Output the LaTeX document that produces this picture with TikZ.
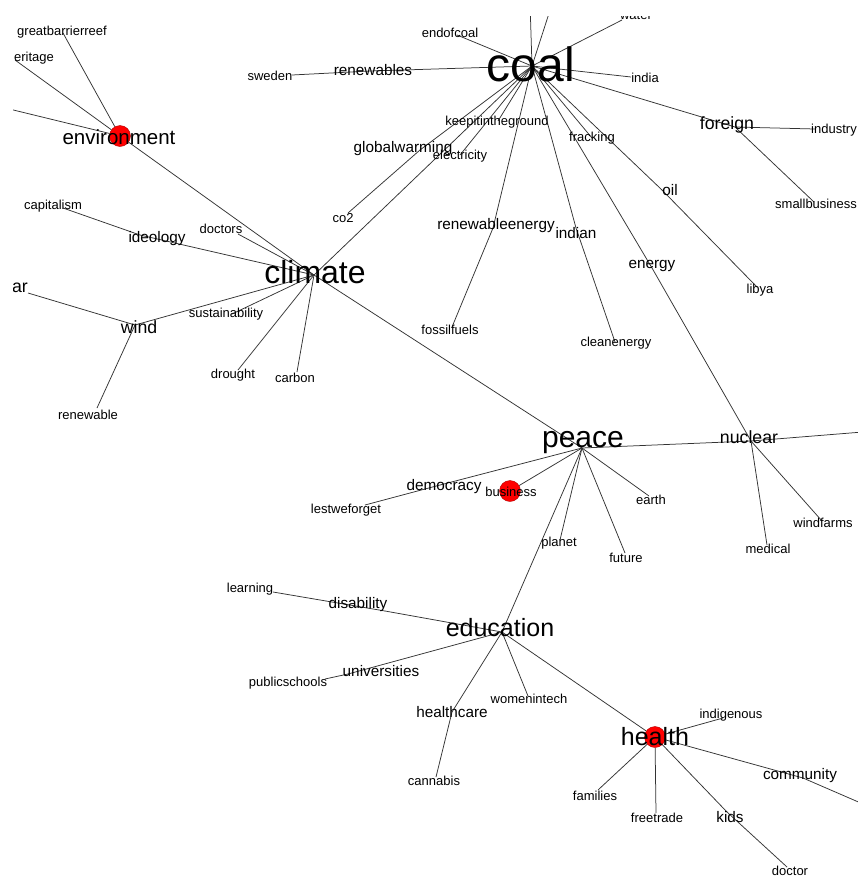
\documentclass[tikz,border=0pt]{standalone}
\usepackage{fontspec}
\setmainfont{Liberation Sans}
\pgfdeclarelayer{edges}
\pgfsetlayers{edges,main}

\begin{document}
\begin{tikzpicture}[x=1pt,y=-1pt,
        v/.style={inner sep=0pt,outer sep=0pt,minimum size=0pt},
        dot/.style={circle,fill=red,draw=red!70!black,thin,inner sep=0pt,minimum size=21pt},
        f1/.style={font={\fontsize{13}{13}\selectfont}},
        f2/.style={font={\fontsize{15.3}{15}\selectfont}},
        f3/.style={font={\fontsize{17.7}{18}\selectfont}},
        link/.style={draw=black!80,line width=0.75pt}]
  \useasboundingbox (0,0) rectangle (858,876);
  \clip (13,16) rectangle (858,876);

  % coal cluster
  \node[v,label={[font={\fontsize{48}{48}\selectfont},xshift=-1pt,yshift=2pt]center:coal}] (coal) at (532,66) {};
  \node[v,label={[f1,xshift=-7pt,yshift=2pt]center:endofcoal}] (endofcoal) at (457,35) {};
  \node[v,label={[f2,xshift=3pt,yshift=1pt]center:renewables}] (renewables) at (370,71) {};
  \node[v,label={[f1,xshift=-22pt,yshift=-1pt]center:sweden}] (sweden) at (292,75) {};
  \node[v,label={[f1,xshift=14pt,yshift=5pt]center:water}] (water) at (622,20) {};
  \node[v,label={[f1,xshift=14pt,yshift=-1pt]center:india}] (india) at (631,77) {};
  \node[v,label={[f3,xshift=-8pt,yshift=2pt]center:foreign}] (foreign) at (735,127) {};
  \node[v,label={[f1,xshift=19pt,yshift=-1pt]center:industry}] (industry) at (815,129) {};
  \node[v,label={[f1,xshift=2pt,yshift=-2pt]center:smallbusiness}] (smallbusiness) at (814,202) {};
  \node[v,label={[f1,xshift=-1pt,yshift=-1pt]center:keepitintheground}] (keepit) at (498,121) {};
  \node[v,label={[f2,xshift=-17pt,yshift=1pt]center:globalwarming}] (globalwarming) at (420,150) {};
  \node[v,label={[f1,xshift=-5pt,yshift=-5pt]center:co2}] (co2) at (348,213) {};
  \node[v,label={[f1,yshift=-1pt]center:electricity}] (electricity) at (460,155) {};
  \node[v,label={[f2,xshift=3pt,yshift=2pt]center:renewableenergy}] (renewableenergy) at (493,228) {};
  \node[v,label={[f1,xshift=-2pt,yshift=-3pt]center:fossilfuels}] (fossilfuels) at (452,327) {};
  \node[v,label={[f2,yshift=-5pt]center:indian}] (indian) at (576,228) {};
  \node[v,label={[f1,xshift=1pt,yshift=-1pt]center:cleanenergy}] (cleanenergy) at (615,342) {};
  \node[v,label={[f1]center:fracking}] (fracking) at (592,138) {};
  \node[v,label={[f2,yshift=2pt]center:energy}] (energy) at (652,268) {};
  \node[v,label={[f2,xshift=8pt]center:oil}] (oil) at (662,190) {};
  \node[v,label={[f1,xshift=3pt,yshift=-3pt]center:libya}] (libya) at (757,287) {};
  \coordinate (coalup) at (529,-30);
  \coordinate (coalupr) at (563,-30);

  % climate cluster
  \node[v,label={[font={\fontsize{32}{32}\selectfont},xshift=1pt,yshift=3pt]center:climate}] (climate) at (314,275) {};
  \node[dot,label={[font={\fontsize{20.5}{21}\selectfont},xshift=-1pt,yshift=-1pt]center:environment}] (environment) at (120,136) {};
  \node[v,label={[f1,xshift=-1pt,yshift=1pt]center:greatbarrierreef}] (greatbarrierreef) at (63,33) {};
  \node[v,label={[f1,xshift=19pt,yshift=2pt]center:eritage}] (eritage) at (15,60) {};
  \coordinate (envleft) at (-40,97);
  \node[v,label={[f1,xshift=-17pt,yshift=5pt]center:doctors}] (doctors) at (238,234) {};
  \node[v,label={[f2,xshift=17pt,yshift=-4pt]center:ideology}] (ideology) at (140,235) {};
  \node[v,label={[f1,xshift=-10pt,yshift=2pt]center:capitalism}] (capitalism) at (63,208) {};
  \node[v,label={[f3,xshift=4pt,yshift=-2pt]center:wind}] (wind) at (135,325) {};
  \node[v,label={[f3,xshift=-8pt,yshift=5pt]center:ar}] (ar) at (28,293) {};
  \node[v,label={[f1,xshift=-6pt]center:sustainability}] (sustainability) at (232,314) {};
  \node[v,label={[f1,xshift=-9pt,yshift=-7pt]center:renewable}] (renewable) at (97,408) {};
  \node[v,label={[f1,xshift=-5pt,yshift=-5pt]center:drought}] (drought) at (238,370) {};
  \node[v,label={[f1,xshift=-2pt,yshift=-6pt]center:carbon}] (carbon) at (297,372) {};

  % peace cluster
  \node[v,label={[font={\fontsize{30}{30}\selectfont},xshift=1pt,yshift=5pt]center:peace}] (peace) at (582,448) {};
  \node[v,label={[f3,xshift=-2pt,yshift=4pt]center:nuclear}] (nuclear) at (751,441) {};
  \coordinate (nucright) at (900,429);
  \node[v,label={[f1,xshift=1pt,yshift=-4pt]center:medical}] (medical) at (767,545) {};
  \node[v,label={[f1,xshift=1pt,yshift=-2pt]center:windfarms}] (windfarms) at (822,521) {};
  \node[v,label={[f2,xshift=4pt,yshift=-2pt]center:democracy}] (democracy) at (440,485) {};
  \node[v,label={[f1,xshift=-19pt,yshift=-5pt]center:lestweforget}] (lestweforget) at (365,505) {};
  \node[dot,label={[f1,xshift=1pt,yshift=-1pt]center:business}] (business) at (510,491) {};
  \node[v,label={[f1,xshift=2pt,yshift=-4pt]center:earth}] (earth) at (649,496) {};
  \node[v,label={[f1,xshift=1pt,yshift=-5pt]center:future}] (future) at (625,553) {};
  \node[v,label={[f1,xshift=-1pt,yshift=-3pt]center:planet}] (planet) at (560,540) {};

  % education and health
  \node[v,label={[font={\fontsize{25}{25}\selectfont},xshift=-2pt,yshift=4pt]center:education}] (education) at (502,632) {};
  \node[v,label={[f1,xshift=-23pt,yshift=3pt]center:learning}] (learning) at (273,592) {};
  \node[v,label={[f2,xshift=-27pt,yshift=6pt]center:disability}] (disability) at (385,611) {};
  \node[v,label={[f2,xshift=33pt,yshift=3pt]center:universities}] (universities) at (348,674) {};
  \node[v,label={[f1,xshift=-37pt,yshift=-4pt]center:publicschools}] (publicschools) at (325,679) {};
  \node[v,label={[f2]center:healthcare}] (healthcare) at (452,712) {};
  \node[v,label={[f1,xshift=-2pt,yshift=-4pt]center:cannabis}] (cannabis) at (436,777) {};
  \node[v,label={[f1,xshift=1pt,yshift=-3pt]center:womenintech}] (womenintech) at (528,696) {};
  \node[dot,label={[font={\fontsize{25}{25}\selectfont}]center:health}] (health) at (655,737) {};
  \node[v,label={[f1,xshift=8pt,yshift=3pt]center:indigenous}] (indigenous) at (723,718) {};
  \node[v,label={[f2,xshift=-3pt,yshift=2pt]center:community}] (community) at (803,778) {};
  \coordinate (comright) at (900,820);
  \node[v,label={[f1,xshift=-3pt,yshift=-6pt]center:families}] (families) at (598,790) {};
  \node[v,label={[f1,xshift=1pt,yshift=-5pt]center:freetrade}] (freetrade) at (656,813) {};
  \node[v,label={[f2,xshift=3pt,yshift=-5pt]center:kids}] (kids) at (727,812) {};
  \node[v,label={[f1,xshift=3pt,yshift=-4pt]center:doctor}] (doctor) at (787,867) {};

  \begin{pgfonlayer}{edges}
    \fill[white] (0,0) rectangle (858,876);
    \clip (13,16) rectangle (858,876);
    \foreach \t in {endofcoal,renewables,water,coalup,coalupr,india,foreign,keepit,
                    globalwarming,electricity,climate,renewableenergy,indian,fracking,energy,oil}
      \draw[link] (coal) -- (\t);
    \draw[link] (renewables) -- (sweden);
    \draw[link] (foreign) -- (industry); \draw[link] (foreign) -- (smallbusiness);
    \draw[link] (globalwarming) -- (co2);
    \draw[link] (renewableenergy) -- (fossilfuels);
    \draw[link] (indian) -- (cleanenergy);
    \draw[link] (oil) -- (libya);
    \draw[link] (energy) -- (nuclear);
    \foreach \t in {nucright,medical,windfarms,peace}
      \draw[link] (nuclear) -- (\t);
    \foreach \t in {environment,doctors,ideology,wind,sustainability,drought,carbon,peace}
      \draw[link] (climate) -- (\t);
    \foreach \t in {greatbarrierreef,eritage,envleft}
      \draw[link] (environment) -- (\t);
    \draw[link] (ideology) -- (capitalism);
    \draw[link] (wind) -- (ar); \draw[link] (wind) -- (renewable);
    \foreach \t in {democracy,business,earth,future,planet,education}
      \draw[link] (peace) -- (\t);
    \draw[link] (democracy) -- (lestweforget);
    \foreach \t in {disability,universities,healthcare,womenintech,health}
      \draw[link] (education) -- (\t);
    \draw[link] (disability) -- (learning);
    \draw[link] (universities) -- (publicschools);
    \draw[link] (healthcare) -- (cannabis);
    \foreach \t in {indigenous,community,families,freetrade,kids}
      \draw[link] (health) -- (\t);
    \draw[link] (community) -- (comright);
    \draw[link] (kids) -- (doctor);
  \end{pgfonlayer}
\end{tikzpicture}
\end{document}
